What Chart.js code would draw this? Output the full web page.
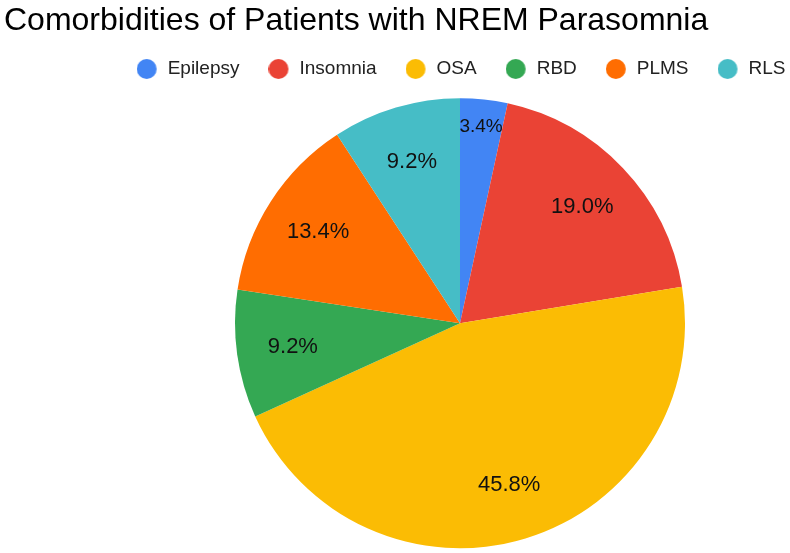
<!DOCTYPE html>
<html>
<head>
    <title>Comorbidities of Patients with NREM Parasomnia</title>
    <script src="https://cdn.jsdelivr.net/npm/chart.js"></script>
    <style>
        html, body { margin: 0; padding: 0; background: #fff; overflow: hidden; }
        /* a bit wider/taller than the window so the legend can sit flush right */
        #wrap { width: 817px; height: 558px; }
    </style>
</head>
<body>
    <div id="wrap"><canvas id="chart"></canvas></div>
    <script>
// Chart data
const chartTitle = 'Comorbidities of Patients with NREM Parasomnia';
const categories = ['Epilepsy', 'Insomnia', 'OSA', 'RBD', 'PLMS', 'RLS'];
const percentages = [3.4, 19.0, 45.8, 9.2, 13.4, 9.2];
const sliceColors = ['#4285f4', '#ea4335', '#fbbc04', '#34a853', '#ff6d01', '#46bdc6'];

const FONT = '"Liberation Sans", Arial, sans-serif';

// legend dots: circle sits at the left of a slightly wider image,
// which leaves a bigger gap before the label text
function makeDot(color) {
    const c = document.createElement('canvas');
    c.width = 24;
    c.height = 20;
    const g = c.getContext('2d');
    g.fillStyle = color;
    g.beginPath();
    g.arc(10, 10, 10, 0, Math.PI * 2);
    g.fill();
    return c;
}
const dots = sliceColors.map(makeDot);

// Title drawn at the far left of the canvas (the pie is pushed right by padding)
const leftTitle = {
    id: 'leftTitle',
    afterDraw(chart) {
        const ctx = chart.ctx;
        ctx.save();
        ctx.font = '32px ' + FONT;
        ctx.fillStyle = '#000';
        ctx.textAlign = 'left';
        ctx.textBaseline = 'alphabetic';
        ctx.fillText(chartTitle, 4, 30);
        ctx.restore();
    }
};

// Draw the percent text inside each slice
const sliceLabels = {
    id: 'sliceLabels',
    afterDatasetsDraw(chart) {
        const ctx = chart.ctx;
        const meta = chart.getDatasetMeta(0);
        ctx.save();
        ctx.fillStyle = '#111';
        ctx.textAlign = 'center';
        ctx.textBaseline = 'middle';
        meta.data.forEach((arc, i) => {
            const small = percentages[i] < 5;
            ctx.font = (small ? 19 : 22) + 'px ' + FONT;
            const mid = (arc.startAngle + arc.endAngle) / 2;
            const f = small ? 0.88 : 0.75;
            const x = arc.x + Math.cos(mid) * arc.outerRadius * f;
            const y = arc.y + Math.sin(mid) * arc.outerRadius * f;
            ctx.fillText(percentages[i].toFixed(1) + '%', x, y);
        });
        ctx.restore();
    }
};

new Chart(document.getElementById('chart').getContext('2d'), {
    type: 'pie',
    data: {
        labels: categories,
        datasets: [{
            data: percentages,
            backgroundColor: sliceColors,
            borderWidth: 0,
            radius: 225
        }]
    },
    options: {
        responsive: true,
        maintainAspectRatio: false,
        animation: false,
        layout: { padding: { left: 103, top: 28, bottom: 0, right: 0 } },
        plugins: {
            title: { display: false },
            legend: {
                align: 'end',
                labels: {
                    usePointStyle: true,
                    boxWidth: 19,
                    boxHeight: 19,
                    padding: 31.5,
                    color: '#222',
                    font: { family: FONT, size: 19 },
                    generateLabels(chart) {
                        const items = Chart.overrides.pie.plugins.legend.labels.generateLabels(chart);
                        items.forEach((item, i) => { item.pointStyle = dots[i]; });
                        return items;
                    }
                }
            },
            tooltip: { enabled: false }
        }
    },
    plugins: [sliceLabels, leftTitle]
});
    </script>
</body>
</html>
